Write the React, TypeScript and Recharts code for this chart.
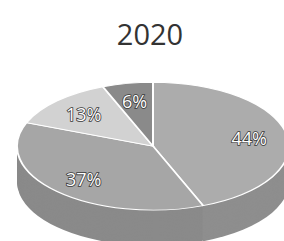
import { PieChart, Pie, Cell } from "recharts"

const labels = ["44%", "37%", "13%", "6%"]
const values = [44, 37, 13, 6]
const topColors = ["#acacac", "#a6a6a6", "#d2d2d2", "#8a8a8a"]
const sideColors = ["#8e8e8e", "#8a8a8a", "#a8a8a8", "#6e6e6e"]

const data = labels.map((name, i) => ({ name, value: values[i] }))

// squash factor for the fake 3d tilt
const K = 0.47
const CX = 148
const CY = 140
const R = 136
const DEPTH = 76
const layers: number[] = []
for (let d = DEPTH; d > 0; d -= 3) layers.push(d)

const RADIAN = Math.PI / 180

const renderLabel = (props: any) => {
    const { cx, cy, midAngle, outerRadius, index } = props
    const r = outerRadius * 0.72
    const x = cx + r * Math.cos(-midAngle * RADIAN)
    const y = cy + r * Math.sin(-midAngle * RADIAN)
    return (
        <text
            transform={`translate(${x},${y}) scale(1,${1 / K})`}
            textAnchor="middle"
            dominantBaseline="central"
            fill="#fff"
            stroke="#3a3a3a"
            strokeWidth={1.6}
            paintOrder="stroke"
            fontSize={18}
            fontFamily="'Open Sans', sans-serif"
        >
            {labels[index]}
        </text>
    )
}

export default function App() {
    return (
        <div style={{ position: "absolute", left: 0, top: 0, width: 284, height: 241, overflow: "hidden", background: "#fff" }}>
            <div style={{ position: "absolute", left: 0, top: 14, width: 300, textAlign: "center", fontFamily: "'Open Sans', sans-serif", fontSize: 29, lineHeight: "40px", color: "#333" }}>
                2020
            </div>
            <div style={{ position: "absolute", left: 0, top: 78, width: 284, height: 400, transform: `scaleY(${K})`, transformOrigin: "top left" }}>
                <PieChart width={284} height={400}>
                    {layers.map((d) => (
                        <Pie
                            key={d}
                            data={data}
                            dataKey="value"
                            cx={CX}
                            cy={CY + d}
                            outerRadius={R}
                            startAngle={90}
                            endAngle={-270}
                            stroke="none"
                            isAnimationActive={false}
                        >
                            {data.map((e, i) => (
                                <Cell key={e.name} fill={sideColors[i]} />
                            ))}
                        </Pie>
                    ))}
                    <Pie
                        data={data}
                        dataKey="value"
                        cx={CX}
                        cy={CY}
                        outerRadius={R}
                        startAngle={90}
                        endAngle={-270}
                        stroke="#fff"
                        strokeWidth={2}
                        label={renderLabel}
                        labelLine={false}
                        isAnimationActive={false}
                    >
                        {data.map((e, i) => (
                            <Cell key={e.name} fill={topColors[i]} />
                        ))}
                    </Pie>
                </PieChart>
            </div>
        </div>
    )
}
